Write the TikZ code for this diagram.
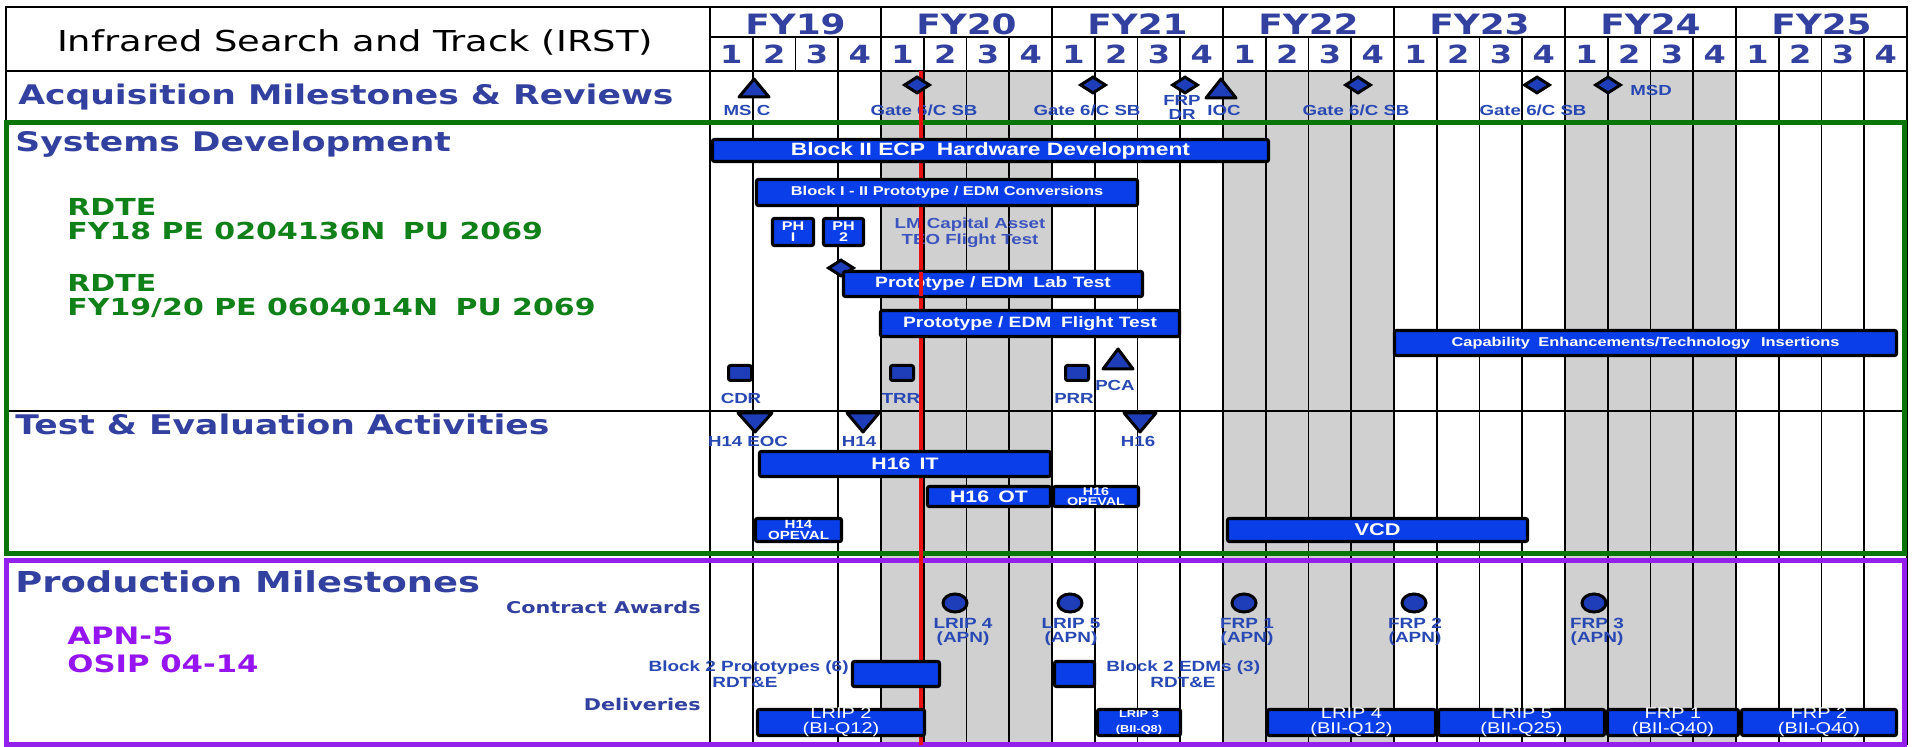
\documentclass[tikz,border=0pt]{standalone}
\usepackage{fontspec}
\setmainfont[FakeStretch=1.28]{Liberation Sans}
\newfontfamily\fdv[FakeStretch=1.28]{DejaVu Sans}
\usetikzlibrary{shapes.geometric}
\definecolor{hblue}{RGB}{50,64,160}
\definecolor{lblue}{RGB}{40,72,180}
\definecolor{lblueb}{RGB}{60,84,190}
\definecolor{gtext}{RGB}{16,128,24}
\definecolor{gbox}{RGB}{10,118,10}
\definecolor{ptext}{RGB}{150,20,240}
\definecolor{pbox}{RGB}{148,32,236}
\definecolor{barblue}{RGB}{10,62,232}
\definecolor{shpblue}{RGB}{30,62,185}
\definecolor{greyf}{RGB}{208,208,208}
\definecolor{redl}{RGB}{232,16,16}
\newcommand\fsz[2]{\fontsize{#1}{#2}\selectfont}
\newcommand\gbr[7][]{%
  \node[gbar,minimum width={(#4-#3)*0.5pt-1.5pt},minimum height={(#6-#5)*0.5pt-1.5pt}] (#2) at ({(#3+#4)/2},{(#5+#6)/2}) {};
  \node[btx,#1] (#2t) at (#2.center) {#7};}
\newcommand\gbx[5]{%
  \node[gbar,minimum width={(#3-#2)*0.5pt-1.5pt},minimum height={(#5-#4)*0.5pt-1.5pt}] (#1) at ({(#2+#3)/2},{(#4+#5)/2}) {};}
\newcommand\utri[4]{\filldraw[tri] (#1,#2) -- ({#1+#4},#3) -- ({#1-#4},#3) -- cycle;}
\newcommand\dtri[4]{\filldraw[tri] (#1,#3) -- ({#1+#4},#2) -- ({#1-#4},#2) -- cycle;}
\begin{document}
\begin{tikzpicture}[x=0.5pt,y=-0.5pt,
  gridl/.style={line width=0.9pt,draw=black},
  frm/.style={line width=0.9pt,draw=black},
  gbar/.style={draw=black,line width=1.6pt,fill=barblue,inner sep=0pt,rounded corners=1pt},
  btx/.style={text=white,inner sep=0pt,align=center},
  slbl/.style={text=lblue,inner sep=0pt,align=center,font=\bfseries\fsz{7.3}{7}},
  plbl/.style={text=lblue,inner sep=0pt,align=center,font=\bfseries\fsz{7.4}{7}},
  head/.style={text=hblue,anchor=west,inner sep=0pt,font=\fdv\bfseries\fsz{13.5}{14}},
  dmd/.style={diamond,draw=black,line width=1.5pt,fill=shpblue,minimum width=13pt,minimum height=8.5pt,inner sep=0pt},
  sqr/.style={rectangle,draw=black,line width=1.5pt,fill=shpblue,minimum width=11.5pt,minimum height=7.5pt,inner sep=0pt,rounded corners=1pt},
  crc/.style={ellipse,draw=black,line width=1.5pt,fill=shpblue,minimum width=12pt,minimum height=9pt,inner sep=0pt},
  tri/.style={draw=black,line width=1.5pt,fill=shpblue,line join=round},
  redst/.style={draw=redl,line width=2pt}]
\useasboundingbox (0,0) rectangle (1912,747);
\fill[white] (0,0) rectangle (1912,747);
% shading of alternate fiscal years
\fill[greyf] (881,71) rectangle (1052,745);
\fill[greyf] (1223,71) rectangle (1394,745);
\fill[greyf] (1565,71) rectangle (1736,745);
% grid
\foreach \q in {0,1,3,4,...,28} \draw[gridl] ({710+42.75*\q},71) -- ({710+42.75*\q},745);
% header
\draw[frm] (6,7) rectangle (1907,71);
\draw[frm] (710,7) -- (710,71);
\draw[frm] (710,37) -- (1907,37);
\foreach \q in {1,...,27} \draw[frm] ({710+42.75*\q},37) -- ({710+42.75*\q},71);
\foreach \q in {4,8,...,24} \draw[frm] ({710+42.75*\q},7) -- ({710+42.75*\q},71);
\draw[frm] (6,71) -- (6,123);
\node[font=\fdv\fsz{14.4}{15},inner sep=0pt] (title) at (355,42) {Infrared Search and Track (IRST)};
\foreach \i/\t in {0/19,1/20,2/21,3/22,4/23,5/24,6/25}
  \node[text=hblue,font=\fdv\bfseries\fsz{14}{15},inner sep=0pt] (fy\t) at ({795.5+171*\i},24) {FY\t};
\foreach \q in {0,...,27} {
  \pgfmathtruncatemacro\n{mod(\q,4)+1}
  \node[text=hblue,font=\fdv\bfseries\fsz{12.5}{13},inner sep=0pt] (qn\q) at ({731.375+42.75*\q},54) {\n};}
% section frames
\draw[frm] (6,411) -- (1904,411);
\draw[draw=gbox,line width=2.5pt] (6,123) rectangle (1904,554);
\draw[draw=pbox,line width=2.5pt] (6,561) rectangle (1904,745);
% small labels
\node[slbl] (mscl) at (747,110) {MS C};
\node[slbl] (g1l) at (924,110) {Gate 6/C SB};
\node[slbl] (g2l) at (1087,110) {Gate 6/C SB};
\node[slbl] (g3l) at (1356,110) {Gate 6/C SB};
\node[slbl] (g4l) at (1533,110) {Gate 6/C SB};
\node[slbl] (frpl) at (1182,107) {FRP\\DR};
\node[slbl] (iocl) at (1224,110) {IOC};
\node[slbl,anchor=west] (msdl) at (1630,90) {MSD};
\node[slbl,text=lblueb,font=\bfseries\fsz{7.3}{6.5}] (lmcap) at (970,233) {LM Capital Asset\\TEO Flight Test};
\node[slbl] (cdrl) at (741,398) {CDR};
\node[slbl] (trrl) at (901,398) {TRR};
\node[slbl] (prrl) at (1074,398) {PRR};
\node[slbl] (pcal) at (1115,385) {PCA};
\node[slbl] (h14eocl) at (748,441) {H14 EOC};
\node[slbl] (h14l) at (859,441) {H14};
\node[slbl] (h16l) at (1138,441) {H16};
\node[plbl] (ca1l) at (963,632) {LRIP 4\\(APN)};
\node[plbl] (ca2l) at (1071,632) {LRIP 5\\(APN)};
\node[plbl] (ca3l) at (1247,632) {FRP 1\\(APN)};
\node[plbl] (ca4l) at (1415,632) {FRP 2\\(APN)};
\node[plbl] (ca5l) at (1597,632) {FRP 3\\(APN)};
\node[plbl,anchor=east] (b2pl) at (849,668) {Block 2 Prototypes (6)};
\node[plbl] (b2pr) at (745,682) {RDT\&E};
\node[plbl,anchor=west] (b2el) at (1106,668) {Block 2 EDMs (3)};
\node[plbl] (b2er) at (1183,682) {RDT\&E};
% status line
\draw[redst] (921,71) -- (921,745);
% acquisition milestones
\utri{754}{79}{97}{15}
\utri{1221}{79}{98}{15}
\node[dmd] (g1) at (917,85) {};
\node[dmd] (g2) at (1093,85) {};
\node[dmd] (frpdr) at (1185,85) {};
\node[dmd] (g3) at (1358,85) {};
\node[dmd] (g4) at (1537,85) {};
\node[dmd] (msd) at (1608,85) {};
% systems development
\gbr[font=\bfseries\fsz{8.9}{10}]{b2ecp}{711}{1270}{138}{163}{Block II ECP\hspace{0.3em} Hardware Development}
\gbr[font=\bfseries\fsz{6.4}{7}]{b12}{755}{1139}{178}{207}{Block I - II Prototype / EDM Conversions}
\gbr[font=\bfseries\fsz{6.3}{5.5}]{ph1}{771}{815}{217}{247}{PH\\I}
\gbr[font=\bfseries\fsz{6.3}{5.5}]{ph2}{822}{865}{217}{247}{PH\\2}
\node[dmd] (pd) at (841,268) {};
\gbr[font=\bfseries\fsz{7.5}{8}]{labt}{842}{1144}{270}{298}{Prototype / EDM\hspace{0.3em} Lab Test}
\draw[redst] (921,272) -- (921,296);
\gbr[font=\bfseries\fsz{7.5}{8}]{flt}{879}{1181}{309}{338}{Prototype / EDM\hspace{0.3em} Flight Test}
\gbr[font=\bfseries\fsz{6.4}{7}]{capen}{1393}{1898}{329}{357}{Capability\hspace{0.3em} Enhancements/Technology\hspace{0.5em} Insertions}
\node[sqr] (cdr) at (740,373) {};
\node[sqr] (trr) at (902,373) {};
\node[sqr] (prr) at (1077,373) {};
\utri{1118}{349}{369}{15}
% test and evaluation
\dtri{755}{413}{432}{17}
\dtri{863}{413}{432}{16}
\dtri{1140}{413}{432}{16}
\gbr[font=\bfseries\fsz{8.3}{9}]{h16it}{758}{1052}{450}{478}{H16\hspace{0.2em} IT}
\gbr[font=\bfseries\fsz{8.3}{9}]{h16ot}{926}{1052}{485}{508}{H16\hspace{0.2em} OT}
\gbr[font=\bfseries\fsz{5.6}{5.2}]{h16op}{1052}{1140}{485}{508}{H16\\OPEVAL}
\gbr[font=\bfseries\fsz{5.9}{5.6}]{h14op}{754}{843}{517}{543}{H14\\OPEVAL}
\gbr[font=\bfseries\fsz{8.5}{9}]{vcd}{1226}{1529}{517}{543}{VCD}
% production
\node[crc] (ca1) at (955,603) {};
\node[crc] (ca2) at (1070,603) {};
\node[crc] (ca3) at (1244,603) {};
\node[crc] (ca4) at (1414,603) {};
\node[crc] (ca5) at (1594,603) {};
\gbx{b2p}{851}{941}{660}{688}
\gbx{b2e}{1053}{1096}{660}{688}
\gbr[font=\fsz{7.8}{7.5}]{lr2}{756}{926}{708}{737}{LRIP 2\\(BI-Q12)}
\gbr[font=\bfseries\fsz{5}{7.5}]{lr3}{1096}{1182}{708}{737}{LRIP 3\\(BII-Q8)}
\gbr[font=\fsz{7.8}{7.5}]{lr4}{1266}{1437}{708}{737}{LRIP 4\\(BII-Q12)}
\gbr[font=\fsz{7.8}{7.5}]{lr5}{1437}{1606}{708}{737}{LRIP 5\\(BII-Q25)}
\gbr[font=\fsz{7.8}{7.5}]{frp1}{1606}{1740}{708}{737}{FRP 1\\(BII-Q40)}
\gbr[font=\fsz{7.8}{7.5}]{frp2}{1740}{1898}{708}{737}{FRP 2\\(BII-Q40)}
% left-hand headings
\node[head] (acq) at (18,97) {Acquisition Milestones \& Reviews};
\node[head] (sysd) at (15,144) {Systems Development};
\node[head] (tea) at (15,424) {Test \& Evaluation Activities};
\node[head,font=\fdv\bfseries\fsz{14.4}{15}] (prodm) at (15,582) {Production Milestones};
\node[anchor=west,text=gtext,inner sep=0pt,align=left,font=\fdv\bfseries\fsz{11.7}{12}] (rdtea) at (67,219) {RDTE\\FY18 PE 0204136N\hspace{0.3em} PU 2069};
\node[anchor=west,text=gtext,inner sep=0pt,align=left,font=\fdv\bfseries\fsz{11.7}{12}] (rdteb) at (67,296) {RDTE\\FY19/20 PE 0604014N\hspace{0.3em} PU 2069};
\node[anchor=west,text=ptext,inner sep=0pt,align=left,font=\fdv\bfseries\fsz{12}{14}] (apn) at (67,650) {APN-5\\OSIP 04-14};
\node[anchor=east,text=hblue,inner sep=0pt,font=\fdv\bfseries\fsz{8.1}{9}] (cawd) at (701,607) {Contract Awards};
\node[anchor=east,text=hblue,inner sep=0pt,font=\fdv\bfseries\fsz{8.1}{9}] (deliv) at (701,704) {Deliveries};
\end{tikzpicture}
\end{document}
